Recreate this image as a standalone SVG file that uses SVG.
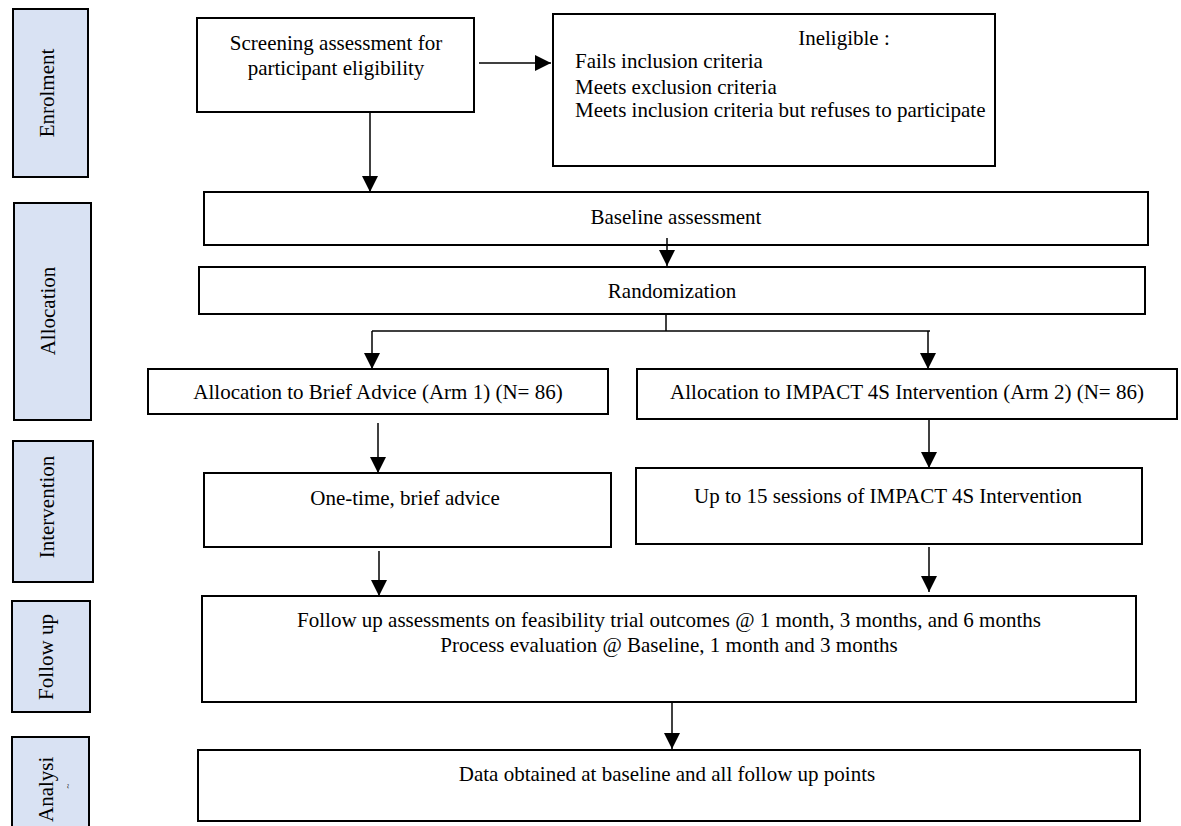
<svg xmlns="http://www.w3.org/2000/svg" width="1181" height="826" viewBox="0 0 1181 826">
<defs>
<marker id="ah" markerUnits="userSpaceOnUse" markerWidth="16" markerHeight="16" viewBox="0 0 16 16" refX="16" refY="8" orient="auto">
<path d="M0,0 L16,8 L0,16 Z" fill="#000"/>
</marker>
<style>
.side rect{fill:#D9E2F3;stroke:#000;stroke-width:2}
.box rect{fill:#fff;stroke:#000;stroke-width:2}
text{font-family:"Liberation Serif","Times New Roman",serif;font-size:21px;fill:#000}
.c{text-anchor:middle}
.conn line,.conn polyline{stroke:#000;stroke-width:1.5;fill:none}
.arr{marker-end:url(#ah)}
</style>
</defs>
<rect width="1181" height="826" fill="#fff"/>

<g id="side-enrolment" class="side"><rect x="13" y="9" width="75" height="168"/><text class="c" transform="translate(54,93) rotate(-90)">Enrolment</text></g>
<g id="side-allocation" class="side"><rect x="14" y="203" width="77" height="217"/><text class="c" transform="translate(55,311) rotate(-90)">Allocation</text></g>
<g id="side-intervention" class="side"><rect x="13" y="441" width="80" height="141"/><text class="c" transform="translate(54,507) rotate(-90)">Intervention</text></g>
<g id="side-followup" class="side"><rect x="12" y="601" width="78" height="111"/><text class="c" transform="translate(53,657) rotate(-90)">Follow up</text></g>
<g id="side-analysis" class="side"><rect x="12" y="737" width="77" height="100"/><text transform="translate(53,822) rotate(-90)">Analysi</text><text class="c" style="font-size:9px" transform="translate(71,786) rotate(-90)">~</text></g>

<g id="screening" class="box"><rect x="197" y="18" width="277" height="94"/><text class="c" x="336" y="50">Screening assessment for</text><text class="c" x="336" y="75">participant eligibility</text></g>
<g id="ineligible" class="box"><rect x="553" y="14" width="442" height="152"/><text class="c" x="844" y="45">Ineligible :</text><text x="575" y="68">Fails inclusion criteria</text><text x="575" y="94">Meets exclusion criteria</text><text x="575" y="117">Meets inclusion criteria but refuses to participate</text></g>
<g id="baseline" class="box"><rect x="204" y="192" width="944" height="53"/><text class="c" x="676" y="224">Baseline assessment</text></g>
<g id="randomization" class="box"><rect x="199" y="267" width="946" height="47"/><text class="c" x="672" y="298">Randomization</text></g>
<g id="alloc-arm1" class="box"><rect x="148" y="369" width="460" height="45"/><text class="c" x="378" y="399">Allocation to Brief Advice (Arm 1) (N= 86)</text></g>
<g id="alloc-arm2" class="box"><rect x="637" y="369" width="540" height="50"/><text class="c" x="907" y="399">Allocation to IMPACT 4S Intervention (Arm 2) (N= 86)</text></g>
<g id="interv-arm1" class="box"><rect x="204" y="473" width="407" height="74"/><text class="c" x="405" y="505">One-time, brief advice</text></g>
<g id="interv-arm2" class="box"><rect x="636" y="468" width="506" height="76"/><text class="c" x="888" y="503">Up to 15 sessions of IMPACT 4S Intervention</text></g>
<g id="followup" class="box"><rect x="202" y="596" width="934" height="106"/><text class="c" x="669" y="627">Follow up assessments on feasibility trial outcomes @ 1 month, 3 months, and 6 months</text><text class="c" x="669" y="652">Process evaluation @ Baseline, 1 month and 3 months</text></g>
<g id="analysis" class="box"><rect x="198" y="750" width="942" height="71"/><text class="c" x="667" y="781">Data obtained at baseline and all follow up points</text></g>

<g id="connectors" class="conn">
<line class="arr" x1="479" y1="63" x2="551" y2="63"/>
<line class="arr" x1="370" y1="112" x2="370" y2="192"/>
<line class="arr" x1="667" y1="238" x2="667" y2="266"/>
<line x1="666" y1="314" x2="666" y2="331"/>
<line x1="372" y1="331" x2="930" y2="331"/>
<line class="arr" x1="372" y1="331" x2="372" y2="369"/>
<line class="arr" x1="928" y1="331" x2="928" y2="369"/>
<line class="arr" x1="378" y1="423" x2="378" y2="473"/>
<line class="arr" x1="929" y1="419" x2="929" y2="468"/>
<line class="arr" x1="379" y1="551" x2="379" y2="596"/>
<line class="arr" x1="929" y1="547" x2="929" y2="592"/>
<line class="arr" x1="672" y1="702" x2="672" y2="749"/>
</g>
</svg>
